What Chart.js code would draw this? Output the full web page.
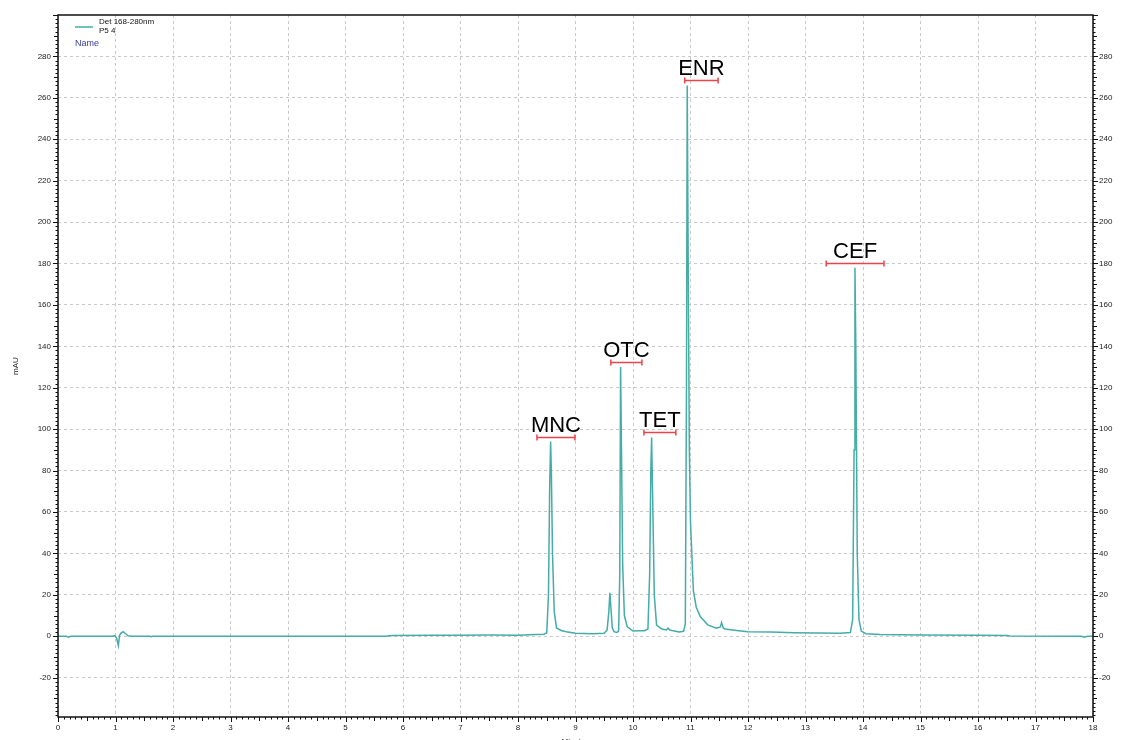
<!DOCTYPE html>
<html>
<head>
<meta charset="utf-8">
<script src="https://cdn.jsdelivr.net/npm/chart.js@4"></script>
<style>
  html, body { margin: 0; padding: 0; background: #fff; }
  #wrap { width: 1132px; height: 740px; }
</style>
</head>
<body>
<div id="wrap"><canvas id="chromChart" width="1132" height="740"></canvas></div>
<script>
// retention time (min) and detector signal (mAU)
const minutes = [
  0, 0.15, 0.18, 0.22, 0.95, 0.99, 1.02, 1.05, 1.07, 1.1, 1.135, 1.17, 1.22, 1.3,
  1.6, 1.62, 1.65, 5.7, 5.8, 6.5, 7.0, 7.5, 8.0, 8.3, 8.45, 8.5,
  8.53, 8.55, 8.567, 8.58, 8.6, 8.63, 8.67, 8.75, 8.84, 9.0, 9.3, 9.5,
  9.55, 9.58, 9.598, 9.62, 9.64, 9.67, 9.72, 9.75, 9.77, 9.784, 9.8, 9.82,
  9.85, 9.9, 10.0, 10.1, 10.2, 10.26, 10.29, 10.31, 10.324, 10.34, 10.37,
  10.41, 10.5, 10.58, 10.61, 10.64, 10.7, 10.8, 10.88, 10.91, 10.93, 10.943,
  10.96, 10.98, 11.0, 11.05, 11.1, 11.17, 11.3, 11.45, 11.52, 11.54, 11.57,
  11.6, 11.8, 12.0, 12.4, 12.8, 13.2, 13.6, 13.78, 13.82, 13.845, 13.86,
  13.875, 13.9, 13.93, 13.97, 14.05, 14.3, 15.0, 16.0, 16.5, 16.55, 17.8,
  17.85, 17.9, 18
]
const signal = [
  0, 0, -0.5, 0, 0, 0.3, -1, -4.5, 0.5, 1.6, 2.2, 1.3, 0.2, 0,
  0, -0.2, 0, 0, 0.4, 0.5, 0.5, 0.6, 0.5, 0.8, 1, 1.6,
  20, 70, 94, 80, 40, 12, 4, 2.8, 2.2, 1.4, 1.2, 1.4,
  3, 12, 21, 12, 4, 2.2, 1.8, 2.5, 30, 130, 90, 35,
  10, 4.5, 2.5, 2.6, 2.7, 3.5, 30, 80, 96, 70, 20,
  5.4, 3.5, 3, 3.9, 3, 2.6, 2, 2.4, 6, 120, 266,
  180, 90, 55, 22, 14, 9.5, 5.5, 3.9, 4.5, 6.6, 4,
  3.5, 2.8, 2.2, 2, 1.7, 1.6, 1.5, 1.8, 8, 90, 178,
  140, 40, 8, 2.5, 1.2, 0.8, 0.6, 0.5, 0.4, 0.1, 0,
  -0.5, 0, 0
]

const xTicks = [0, 1, 2, 3, 4, 5, 6, 7, 8, 9, 10, 11, 12, 13, 14, 15, 16, 17, 18]
const yTicks = [-20, 0, 20, 40, 60, 80, 100, 120, 140, 160, 180, 200, 220, 240, 260, 280]

// peak names and the bracket under each name (minutes, mAU)
const peakNames = ['MNC', 'OTC', 'TET', 'ENR', 'CEF']
const bracketFrom = [8.33, 9.615, 10.19, 10.90, 13.36]
const bracketTo = [8.99, 10.155, 10.745, 11.48, 14.365]
const bracketLevel = [96.2, 132.5, 98.6, 268.4, 180.4]

const traceColor = '#45aca6'

const fixWidth = w => scale => { scale.width = w }

// frame, minor ticks, axis titles, legend box, peak labels
const decorations = {
  id: 'decorations',
  afterDraw(chart) {
    const ctx = chart.ctx
    const a = chart.chartArea
    const x = chart.scales.x
    const y = chart.scales.y

    ctx.save()
    ctx.strokeStyle = '#111'
    ctx.lineWidth = 1
    ctx.beginPath()
    // minor ticks on the time axis
    for (let i = 0; i <= 180; i++) {
      const px = Math.round(x.getPixelForValue(i / 10)) + 0.5
      const len = i % 10 === 0 ? 5 : (i % 5 === 0 ? 4 : 2.5)
      ctx.moveTo(px, a.bottom)
      ctx.lineTo(px, a.bottom + len)
    }
    // minor ticks on both signal axes
    for (let v = -38; v <= 300; v += 2) {
      const py = Math.round(y.getPixelForValue(v)) + 0.5
      const len = v % 20 === 0 ? 5 : (v % 10 === 0 ? 4 : 2.5)
      ctx.moveTo(a.left - len, py)
      ctx.lineTo(a.left, py)
      ctx.moveTo(a.right, py)
      ctx.lineTo(a.right + len, py)
    }
    ctx.stroke()

    ctx.lineWidth = 1.5
    ctx.strokeRect(a.left, a.top, a.right - a.left, a.bottom - a.top)

    // axis titles
    ctx.fillStyle = '#222'
    ctx.font = '8px "Liberation Sans", Arial, sans-serif'
    ctx.textAlign = 'center'
    ctx.textBaseline = 'alphabetic'
    ctx.fillText('Minutes', (a.left + a.right) / 2, 744)
    ctx.save()
    ctx.translate(18, (a.top + a.bottom) / 2)
    ctx.rotate(-Math.PI / 2)
    ctx.fillText('mAU', 0, 0)
    ctx.restore()

    // legend in the corner
    ctx.strokeStyle = traceColor
    ctx.lineWidth = 1.5
    ctx.beginPath()
    ctx.moveTo(a.left + 17, a.top + 12)
    ctx.lineTo(a.left + 35, a.top + 12)
    ctx.stroke()
    ctx.textAlign = 'left'
    ctx.fillStyle = '#111'
    ctx.fillText('Det 168-280nm', a.left + 41, a.top + 9)
    ctx.fillText('P5 4', a.left + 41, a.top + 18)
    ctx.fillStyle = '#3a3aa8'
    ctx.font = '9px "Liberation Sans", Arial, sans-serif'
    ctx.fillText('Name', a.left + 17, a.top + 31)

    // peak labels with their red brackets
    ctx.font = '22px "Liberation Sans", Arial, sans-serif'
    ctx.textAlign = 'center'
    peakNames.forEach((name, i) => {
      const x1 = x.getPixelForValue(bracketFrom[i])
      const x2 = x.getPixelForValue(bracketTo[i])
      const py = Math.round(y.getPixelForValue(bracketLevel[i])) + 0.5
      ctx.strokeStyle = '#e8454a'
      ctx.lineWidth = 1.5
      ctx.beginPath()
      ctx.moveTo(x1, py); ctx.lineTo(x2, py)
      ctx.moveTo(x1, py - 3); ctx.lineTo(x1, py + 3)
      ctx.moveTo(x2, py - 3); ctx.lineTo(x2, py + 3)
      ctx.stroke()
      ctx.fillStyle = '#000'
      ctx.fillText(name, (x1 + x2) / 2, py - 6)
    })
    ctx.restore()
  }
}

const ctx = document.getElementById('chromChart').getContext('2d')
const chromChart = new Chart(ctx, {
  type: 'line',
  data: {
    datasets: [{
      label: 'Det 168-280nm',
      data: minutes.map((t, i) => ({ x: t, y: signal[i] })),
      borderColor: traceColor,
      borderWidth: 1.5,
      pointRadius: 0,
      tension: 0,
      fill: false
    }]
  },
  plugins: [decorations],
  options: {
    responsive: false,
    animation: false,
    layout: { padding: { top: 15, left: 0, right: 0, bottom: 0 } },
    plugins: {
      legend: { display: false },
      tooltip: { enabled: false }
    },
    scales: {
      x: {
        type: 'linear',
        min: 0,
        max: 18,
        afterBuildTicks: scale => { scale.ticks = xTicks.map(v => ({ value: v })) },
        afterFit: scale => { scale.height = 23 },
        ticks: {
          color: '#222',
          font: { size: 8, family: '"Liberation Sans", Arial, sans-serif' },
          padding: 1,
          maxRotation: 0,
          autoSkip: false
        },
        grid: {
          color: '#c9c9c9',
          lineWidth: 1,
          tickLength: 5,
          tickColor: 'rgba(0,0,0,0)'
        },
        border: { display: false, dash: [3, 3] }
      },
      y: {
        position: 'left',
        min: -39,
        max: 300,
        afterBuildTicks: scale => { scale.ticks = yTicks.map(v => ({ value: v })) },
        afterFit: fixWidth(58),
        ticks: {
          color: '#222',
          font: { size: 8, family: '"Liberation Sans", Arial, sans-serif' },
          padding: 2
        },
        grid: {
          color: '#c9c9c9',
          lineWidth: 1,
          tickLength: 5,
          tickColor: 'rgba(0,0,0,0)'
        },
        border: { display: false, dash: [3, 3] }
      },
      y2: {
        position: 'right',
        min: -39,
        max: 300,
        afterBuildTicks: scale => { scale.ticks = yTicks.map(v => ({ value: v })) },
        afterFit: fixWidth(39),
        ticks: {
          color: '#222',
          font: { size: 8, family: '"Liberation Sans", Arial, sans-serif' },
          padding: 1
        },
        grid: {
          drawOnChartArea: false,
          tickLength: 5,
          tickColor: 'rgba(0,0,0,0)'
        },
        border: { display: false }
      }
    }
  }
})
</script>
</body>
</html>
